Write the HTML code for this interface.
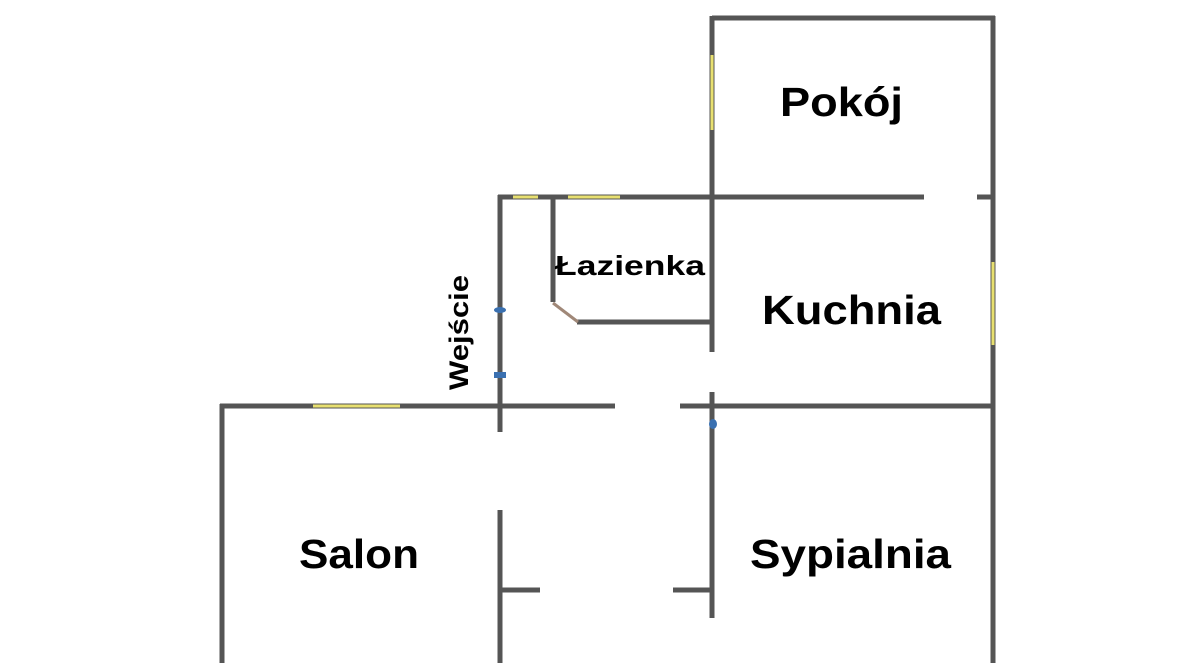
<!DOCTYPE html>
<html><head><meta charset="utf-8"><style>
html,body{margin:0;padding:0;background:#fff;}
svg{display:block}
text{font-family:"Liberation Sans","DejaVu Sans",sans-serif;font-weight:bold;fill:#000}
</style></head><body>
<svg width="1177" height="663" viewBox="0 0 1177 663" xmlns="http://www.w3.org/2000/svg">
<g stroke="#555" stroke-width="5" fill="none" stroke-linecap="butt">
<line x1="712" y1="18" x2="995" y2="18"/>
<line x1="993" y1="16" x2="993" y2="663"/>
<line x1="712" y1="16" x2="712" y2="352"/>
<line x1="498" y1="197" x2="924" y2="197"/>
<line x1="977" y1="197" x2="993" y2="197"/>
<line x1="500" y1="195" x2="500" y2="432"/>
<line x1="500" y1="510" x2="500" y2="663"/>
<line x1="553" y1="197" x2="553" y2="302"/>
<line x1="577" y1="322" x2="712" y2="322"/>
<line x1="712" y1="392" x2="712" y2="618"/>
<line x1="220" y1="406" x2="615" y2="406"/>
<line x1="680" y1="406" x2="993" y2="406"/>
<line x1="222" y1="404" x2="222" y2="663"/>
<line x1="500" y1="590" x2="540" y2="590"/>
<line x1="673" y1="590" x2="712" y2="590"/>
</g>
<line x1="553" y1="303" x2="578" y2="322" stroke="#a08878" stroke-width="3"/>
<g stroke="#e8e070" stroke-width="3">
<line x1="513" y1="197" x2="538" y2="197"/>
<line x1="568" y1="197" x2="620" y2="197"/>
<line x1="313" y1="406" x2="400" y2="406"/>
<line x1="712" y1="55" x2="712" y2="130"/>
<line x1="993" y1="262" x2="993" y2="345"/>
</g>
<g fill="#3a70b0"><ellipse cx="500" cy="310" rx="6" ry="3"/><rect x="494" y="372" width="12" height="6"/><ellipse cx="713" cy="424" rx="4" ry="5"/></g>
<text x="780" y="116" font-size="41" textLength="123" lengthAdjust="spacingAndGlyphs">Pokój</text>
<text x="555" y="275" font-size="28" textLength="150" lengthAdjust="spacingAndGlyphs">Łazienka</text>
<text x="762" y="324" font-size="41" textLength="179" lengthAdjust="spacingAndGlyphs">Kuchnia</text>
<text x="299" y="568" font-size="41" textLength="120" lengthAdjust="spacingAndGlyphs">Salon</text>
<text x="750" y="568" font-size="41" textLength="201" lengthAdjust="spacingAndGlyphs">Sypialnia</text>
<text transform="translate(468,390) rotate(-90)" font-size="27" textLength="115" lengthAdjust="spacingAndGlyphs">Wejście</text>
</svg>
</body></html>
